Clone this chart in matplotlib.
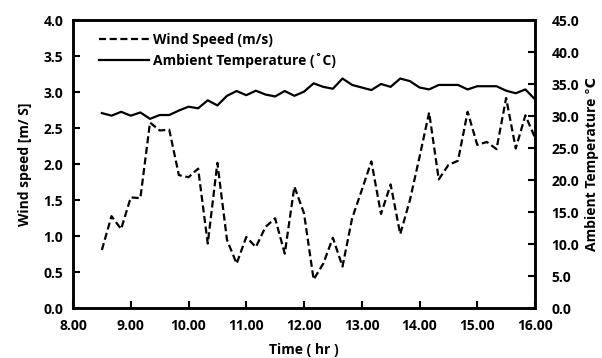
import matplotlib
matplotlib.use("Agg")
import matplotlib.pyplot as plt
import numpy as np

time_hr = [8.5 + i / 6 for i in range(46)]
wind_speed = [0.81, 1.28, 1.10, 1.54, 1.53, 2.58, 2.47, 2.48, 1.85, 1.82,
              1.94, 0.90, 2.02, 0.95, 0.62, 0.99, 0.85, 1.13, 1.25, 0.76,
              1.69, 1.32, 0.40, 0.62, 0.98, 0.58, 1.25, 1.64, 2.04, 1.31,
              1.72, 1.03, 1.50, 2.10, 2.72, 1.79, 1.99, 2.05, 2.73, 2.27,
              2.31, 2.21, 2.92, 2.22, 2.68, 2.37]
temperature = [30.5, 30.1, 30.7, 30.1, 30.6, 29.6, 30.2, 30.2, 30.9, 31.5,
               31.25, 32.5, 31.7, 33.2, 33.95, 33.3, 34.0, 33.4, 33.1, 33.95,
               33.2, 33.85, 35.15, 34.6, 34.3, 35.9, 34.9, 34.5, 34.1, 35.05,
               34.6, 35.9, 35.5, 34.5, 34.2, 34.9, 34.9, 34.9, 34.2, 34.7,
               34.7, 34.7, 34.0, 33.6, 34.2, 32.65]
x_ticks = [8, 9, 10, 11, 12, 13, 14, 15, 16]
left_ticks = [0.0, 0.5, 1.0, 1.5, 2.0, 2.5, 3.0, 3.5, 4.0]
right_ticks = [0, 5, 10, 15, 20, 25, 30, 35, 40, 45]

plt.rcParams['font.family'] = ['Open Sans', 'DejaVu Sans']
plt.rcParams['font.weight'] = 'bold'
FS = 10
TFS = 10

fig = plt.figure(figsize=(6.02, 3.58), dpi=100)
ax = fig.add_axes([73/602, 1 - 308.3/358, 462/602, 288/358])
ax2 = ax.twinx()

l1, = ax.plot(time_hr, wind_speed, color='black', lw=1.6, ls=(0, (3.2, 1.6)))
l2, = ax2.plot(time_hr, temperature, color='black', lw=1.6)

ax.set_xlim(8, 16)
ax.set_ylim(0, 4)
ax2.set_ylim(0, 45)
ax.set_xticks(x_ticks)
ax.set_xticklabels([f"{v:.2f}" for v in x_ticks], fontsize=TFS, fontweight='bold')
ax.set_yticks(left_ticks)
ax.set_yticklabels([f"{v:.1f}" for v in left_ticks], fontsize=TFS, fontweight='bold')
ax2.set_yticks(right_ticks)
ax2.set_yticklabels([f"{v:.1f}" for v in right_ticks], fontsize=TFS, fontweight='bold')

for a in (ax, ax2):
    a.tick_params(direction='in', length=5, width=1.5)
    for s in a.spines.values():
        s.set_linewidth(1.8)
ax.tick_params(axis='y', pad=7)
ax.tick_params(axis='x', pad=8)
ax2.tick_params(axis='y', pad=12)

ax.set_xlabel("Time ( hr )", fontsize=FS, fontweight='bold', labelpad=7)
ax.set_ylabel("Wind speed [m/ S]", fontsize=FS, fontweight='bold', labelpad=8)
ax2.set_ylabel("Ambient Temperature \u2103", fontsize=FS, fontweight='bold', labelpad=4)

ax.legend([l1, l2], ["Wind Speed (m/s)", "Ambient Temperature (\u02daC)"],
          loc='upper left', bbox_to_anchor=(0.03, 1.0), frameon=False,
          prop={'size': FS, 'weight': 'bold'}, handlelength=3.6,
          handletextpad=0.25, labelspacing=0.45)

fig.savefig("out.png", dpi=100)
